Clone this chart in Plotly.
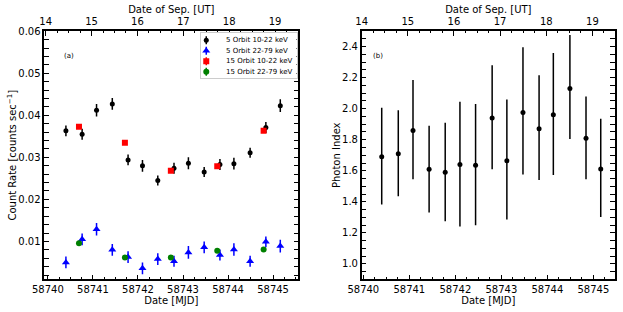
import plotly.graph_objects as go

# ---------------- data ----------------
mjd5 = [58740.40, 58740.76, 58741.08, 58741.43, 58741.78, 58742.10, 58742.44, 58742.80,
        58743.12, 58743.47, 58743.82, 58744.13, 58744.49, 58744.84, 58745.16]
rate5_soft = [0.0363, 0.0355, 0.0412, 0.0427, 0.0294, 0.0280, 0.0245, 0.0274,
              0.0286, 0.0265, 0.0283, 0.0285, 0.0311, 0.0371, 0.0423]
err5_soft = [0.0013, 0.0013, 0.0015, 0.0014, 0.0013, 0.0014, 0.0012, 0.0013,
             0.0014, 0.0012, 0.0013, 0.0014, 0.0012, 0.0013, 0.0015]
rate5_hard = [0.0050, 0.0105, 0.0129, 0.0080, 0.0063, 0.0036, 0.0058, 0.0053,
              0.0074, 0.0086, 0.0068, 0.0081, 0.0053, 0.0099, 0.0089]
err5_hard = [0.0014, 0.0014, 0.0015, 0.0014, 0.0014, 0.0014, 0.0014, 0.0013,
             0.0015, 0.0014, 0.0013, 0.0015, 0.0013, 0.0013, 0.0015]

mjd15 = [58740.69, 58741.71, 58742.73, 58743.76, 58744.79]
rate15_soft = [0.0373, 0.0335, 0.0268, 0.0279, 0.0363]
err15_soft = [0.0005, 0.0005, 0.0005, 0.0005, 0.0005]
rate15_hard = [0.0096, 0.0062, 0.0062, 0.0078, 0.0081]
err15_hard = [0.0005, 0.0005, 0.0005, 0.0005, 0.0005]

photon_index = [1.69, 1.71, 1.86, 1.61, 1.59, 1.64, 1.635, 1.94,
                1.665, 1.976, 1.871, 1.961, 2.131, 1.809, 1.611]
pi_err_plus = [0.317, 0.28, 0.325, 0.28, 0.32, 0.405, 0.395, 0.34,
               0.395, 0.42, 0.345, 0.398, 0.344, 0.27, 0.324]
pi_err_minus = [0.307, 0.275, 0.315, 0.28, 0.316, 0.40, 0.387, 0.331,
                0.38, 0.40, 0.331, 0.389, 0.327, 0.263, 0.31]

sep_ticks = [14, 15, 16, 17, 18, 19]

series_names = ["5 Orbit 10-22 keV", "5 Orbit 22-79 keV",
                "15 Orbit 10-22 keV", "15 Orbit 22-79 keV"]
series_colors = ["black", "blue", "red", "green"]
series_symbols = ["circle", "triangle-up", "square", "circle"]
series_sizes = [5, 7, 6, 6]

FONT = "DejaVu Sans"
fig = go.Figure()

def eb(arr, color, minus=None):
    d = dict(type="data", array=arr, visible=True, color=color, thickness=1.5, width=0)
    if minus is not None:
        d["symmetric"] = False
        d["arrayminus"] = minus
    return d

xs = [mjd5, mjd5, mjd15, mjd15]
ys = [rate5_soft, rate5_hard, rate15_soft, rate15_hard]
es = [err5_soft, err5_hard, err15_soft, err15_hard]
for i in range(4):
    fig.add_trace(go.Scatter(x=xs[i], y=ys[i], mode="markers", name=series_names[i],
                             showlegend=False,
                             marker=dict(symbol=series_symbols[i], size=series_sizes[i],
                                         color=series_colors[i]),
                             error_y=eb(es[i], series_colors[i]), xaxis="x", yaxis="y"))

fig.add_trace(go.Scatter(x=mjd5, y=photon_index, mode="markers", showlegend=False,
                         marker=dict(symbol="circle", size=5, color="black"),
                         error_y=eb(pi_err_plus, "black", pi_err_minus),
                         xaxis="x2", yaxis="y2"))

# helper traces (no visible points) so the top date axes get drawn
fig.add_trace(go.Scatter(x=sep_ticks, y=[None] * len(sep_ticks), mode="markers",
                         showlegend=False, hoverinfo="skip", xaxis="x3", yaxis="y"))
fig.add_trace(go.Scatter(x=sep_ticks, y=[None] * len(sep_ticks), mode="markers",
                         showlegend=False, hoverinfo="skip", xaxis="x4", yaxis="y2"))

# compact legend drawn in its own small axes (rows = series index)
LEG_MARK_X = 0.06
LEG_TEXT_X = 0.24
for i in range(4):
    fig.add_trace(go.Scatter(x=[LEG_MARK_X], y=[i], mode="markers", showlegend=False,
                             hoverinfo="skip",
                             marker=dict(symbol=series_symbols[i], size=series_sizes[i],
                                         color=series_colors[i]),
                             error_y=eb([0.38], series_colors[i]), xaxis="x5", yaxis="y5"))
    fig.add_annotation(text=series_names[i], x=LEG_TEXT_X, y=i, xref="x5", yref="y5",
                       xanchor="left", yanchor="middle", showarrow=False,
                       font=dict(family=FONT, size=7, color="black"))

tickfont = dict(family=FONT, size=10, color="black")
titlefont = dict(family=FONT, size=10, color="black")

def xax(domain, rng, anchor, side="bottom", overlaying=None, title=None, tickvals=None):
    d = dict(domain=domain, range=rng, anchor=anchor, side=side, automargin=False,
             showline=True, linecolor="black", linewidth=1.5, mirror=False,
             ticks="inside", ticklen=5, tickwidth=1.2, tickcolor="black",
             dtick=1, tick0=0, showgrid=False, zeroline=False,
             minor=dict(ticks="inside", ticklen=2.5, tickwidth=1, tickcolor="black", dtick=0.25),
             tickfont=tickfont, tickformat="d",
             title=dict(text=title, font=titlefont, standoff=1))
    if overlaying:
        d["overlaying"] = overlaying
    if tickvals is not None:
        d["tickvals"] = tickvals
        d["ticktext"] = [str(v) for v in tickvals]
    return d

def yax(domain, rng, anchor, dtick, minor, title, fmt):
    return dict(domain=domain, range=rng, anchor=anchor, automargin=False,
                showline=True, linecolor="black", linewidth=1.5, mirror="allticks",
                ticks="inside", ticklen=5, tickwidth=1.2, tickcolor="black",
                dtick=dtick, showgrid=False, zeroline=False, tickformat=fmt,
                minor=dict(ticks="inside", ticklen=2.5, tickwidth=1, tickcolor="black", dtick=minor),
                tickfont=tickfont,
                title=dict(text=title, font=titlefont, standoff=0))

W, H = 623, 312
dl = [44.3 / W, 298.3 / W]
dr = [361.7 / W, 615 / W]
dy = [1 - 279.3 / H, 1 - 31.2 / H]
leg_dx = [200.5 / W, 296.5 / W]
leg_dy = [1 - 78.3 / H, 1 - 33.0 / H]

fig.update_layout(
    width=W, height=H,
    margin=dict(l=0, r=0, t=0, b=0),
    paper_bgcolor="white", plot_bgcolor="white",
    font=dict(family=FONT, color="black"),
    xaxis=xax(dl, [58739.92, 58745.56], "y", title="Date [MJD]"),
    yaxis=yax(dy, [0.001, 0.06], "x", 0.01, 0.002, "Count Rate [counts sec<sup>−1</sup>]", ".2f"),
    xaxis3=xax(dl, [13.969, 19.508], "y", side="top", overlaying="x",
               title="Date of Sep. [UT]", tickvals=sep_ticks),
    xaxis2=xax(dr, [58739.965, 58745.47], "y2", title="Date [MJD]"),
    yaxis2=yax(dy, [0.9, 2.5], "x2", 0.2, 0.05, "Photon Index", ".1f"),
    xaxis4=xax(dr, [14.0, 19.49], "y2", side="top", overlaying="x2",
               title="Date of Sep. [UT]", tickvals=sep_ticks),
    xaxis5=dict(domain=leg_dx, range=[0, 1], anchor="y5", automargin=False,
                showline=True, mirror=True, linecolor="#cccccc", linewidth=1,
                showticklabels=False, ticks="", showgrid=False, zeroline=False, fixedrange=True),
    yaxis5=dict(domain=leg_dy, range=[3.62, -0.69], anchor="x5", automargin=False,
                showline=True, mirror=True, linecolor="#cccccc", linewidth=1,
                showticklabels=False, ticks="", showgrid=False, zeroline=False, fixedrange=True),
    showlegend=False,
)

fig.add_annotation(text="(a)", x=62 / W, y=1 - 50 / H, xref="paper", yref="paper",
                   showarrow=False, font=dict(family=FONT, size=7, color="black"))
fig.add_annotation(text="(b)", x=378 / W, y=1 - 50 / H, xref="paper", yref="paper",
                   showarrow=False, font=dict(family=FONT, size=7, color="black"))

fig.write_html("out.html", config={"displayModeBar": False},
               post_script="document.body.style.margin='0';")
